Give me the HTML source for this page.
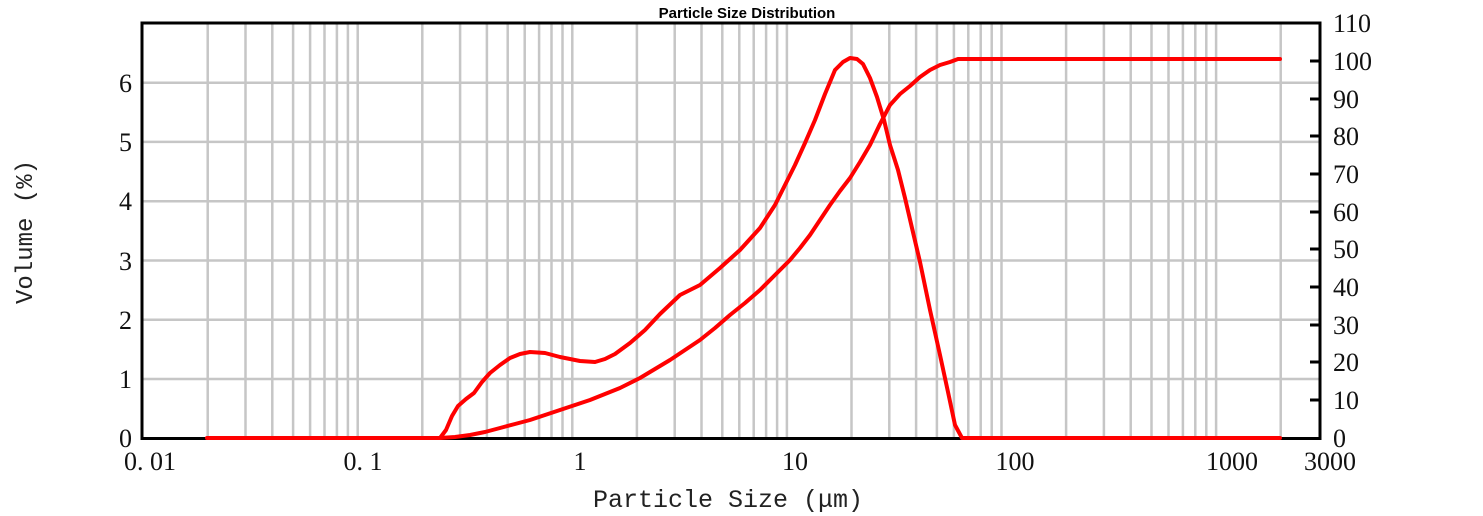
<!DOCTYPE html>
<html><head><meta charset="utf-8"><style>
body{margin:0;background:#fff;}
svg{display:block;}
.t{font-family:"Liberation Serif","Noto Serif CJK SC",serif;font-size:26px;fill:#111;}
</style></head><body>
<svg width="1483" height="516" viewBox="0 0 1483 516" xmlns="http://www.w3.org/2000/svg">
<rect width="1483" height="516" fill="#fff"/>
<g stroke="#c6c6c6" stroke-width="2.5">
<path d="M207.7 23V438M245.5 23V438M272.3 23V438M293.1 23V438M310.1 23V438M324.5 23V438M336.9 23V438M347.9 23V438M357.7 23V438
M422.3 23V438M460.1 23V438M486.9 23V438M507.7 23V438M524.7 23V438M539.1 23V438M551.5 23V438M562.5 23V438M572.3 23V438
M636.9 23V438M674.7 23V438M701.5 23V438M722.3 23V438M739.3 23V438M753.7 23V438M766.1 23V438M777.1 23V438M786.9 23V438
M851.5 23V438M889.3 23V438M916.1 23V438M936.9 23V438M953.9 23V438M968.3 23V438M980.7 23V438M991.7 23V438M1001.5 23V438
M1066.1 23V438M1103.9 23V438M1130.7 23V438M1151.5 23V438M1168.5 23V438M1182.9 23V438M1195.3 23V438M1206.3 23V438M1216.1 23V438
M1280.7 23V438
M143 379H1319M143 319.8H1319M143 260.5H1319M143 201.2H1319M143 141.9H1319M143 82.7H1319"/>
</g>
<rect x="142" y="23" width="1178" height="415.5" fill="none" stroke="#000" stroke-width="3"/>
<g stroke="#000" stroke-width="3">
<path d="M1310 61H1320M1310 99H1320M1310 136H1320M1310 174H1320M1310 212H1320M1310 249H1320M1310 287H1320M1310 325H1320M1310 362H1320M1310 400H1320"/>
</g>
<g fill="none" stroke="#ff0000" stroke-width="4" stroke-linejoin="round" stroke-linecap="round">
<polyline points="207,438 440,438 446,430 452,416 458,406 466,399 474,393 482,382 490,373 500,365 510,358 520,354 530,352 545,353 560,357 580,361 595,362 605,359 615,354 630,343 645,330 660,314 680,295 700,285 720,268 740,250 760,228 775,205 785,185 795,165 805,143 815,120 825,94 835,70 843,62 850,58 857,59 863,64 870,78 877,97 884,120 890,145 898,170 905,198 912,228 920,262 930,310 940,355 948,392 955,425 962,438 1280,438"/>
<polyline points="440,438 455,437 470,435 485,432 500,428 515,424 530,420 545,415 560,410 575,405 590,400 605,394 620,388 640,378 655,369 670,360 685,350 700,340 715,328 730,315 745,303 760,290 775,275 790,260 800,248 810,235 820,220 830,205 840,191 850,178 860,162 870,145 880,124 890,105 900,94 910,86 920,77 930,70 940,65 950,62 958,59 1280,59"/>
</g>
<text x="747" y="18" text-anchor="middle" style="font-family:'Liberation Sans',sans-serif;font-weight:bold;font-size:15px;fill:#000">Particle Size Distribution</text>
<g class="t" text-anchor="end">
<text x="132" y="447">0</text><text x="132" y="388">1</text><text x="132" y="329">2</text><text x="132" y="270">3</text><text x="132" y="210">4</text><text x="132" y="151">5</text><text x="132" y="92">6</text>
</g>
<g class="t">
<text x="1333" y="447">0</text><text x="1333" y="409">10</text><text x="1333" y="371">20</text><text x="1333" y="334">30</text><text x="1333" y="296">40</text><text x="1333" y="258">50</text><text x="1333" y="221">60</text><text x="1333" y="183">70</text><text x="1333" y="145">80</text><text x="1333" y="108">90</text><text x="1333" y="70">100</text><text x="1333" y="32">110</text>
</g>
<g class="t" text-anchor="middle">
<text x="150" y="470">0. 01</text><text x="363" y="470">0. 1</text><text x="580" y="470">1</text><text x="795" y="470">10</text><text x="1015" y="470">100</text><text x="1232" y="470">1000</text><text x="1330" y="470">3000</text>
</g>
<text x="728" y="507" text-anchor="middle" style="font-family:'Liberation Mono','Noto Sans CJK SC',monospace;font-size:25px;fill:#222">Particle Size (μm)</text>
<text transform="translate(32,232) rotate(-90)" text-anchor="middle" style="font-family:'Liberation Mono','Noto Sans CJK SC',monospace;font-size:24px;fill:#222">Volume (%)</text>
</svg>
</body></html>
